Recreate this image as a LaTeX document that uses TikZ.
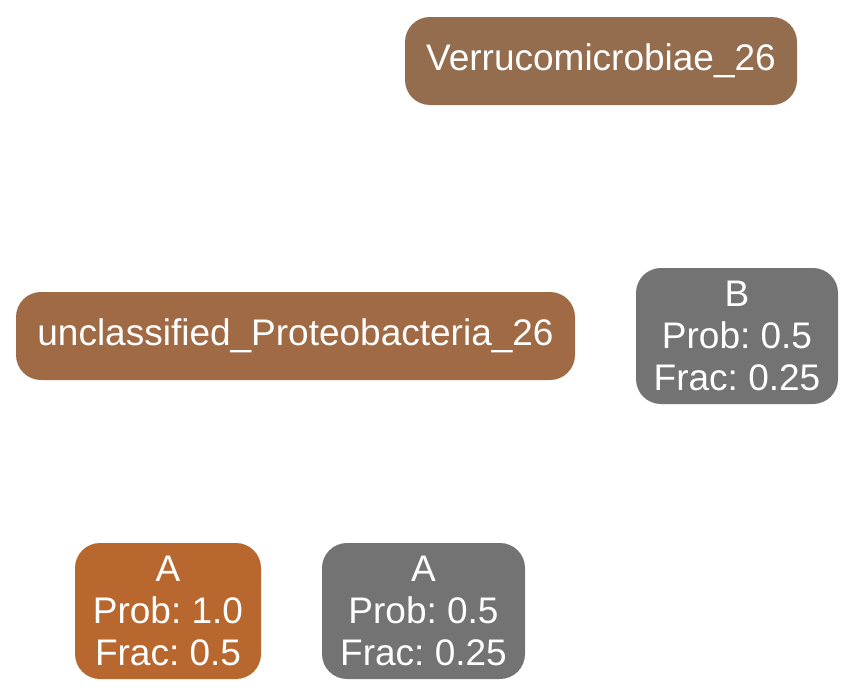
\documentclass[tikz,border=0pt]{standalone}
\usepackage{fontspec}
\setmainfont{Liberation Sans}
\frenchspacing
\definecolor{verc}{HTML}{946C4E}
\definecolor{uncc}{HTML}{A06A45}
\definecolor{orac}{HTML}{B8682E}
\definecolor{gryc}{HTML}{737373}
\tikzset{
  box/.style={rectangle, rounded corners=25pt, inner sep=0pt, align=center, text=white,
    font=\fontsize{37}{42}\selectfont},
}
\begin{document}
\begin{tikzpicture}[x=1pt,y=-1pt]
\useasboundingbox (0,0) rectangle (856,696);
\node[box, fill=verc, minimum width=392pt, minimum height=88pt] (ver) at (601,61) {Verrucomicrobiae\_26};
\node[box, fill=uncc, minimum width=559pt, minimum height=88pt] (unc) at (295.5,336) {unclassified\_Proteobacteria\_26};
\node[box, fill=gryc, minimum width=202pt, minimum height=136pt] (b) at (737,336) {B\\Prob: 0.5\\Frac: 0.25};
\node[box, fill=orac, minimum width=186pt, minimum height=136pt] (a1) at (168,611) {A\\Prob: 1.0\\Frac: 0.5};
\node[box, fill=gryc, minimum width=203pt, minimum height=136pt] (a2) at (423.5,611) {A\\Prob: 0.5\\Frac: 0.25};
\end{tikzpicture}
\end{document}
